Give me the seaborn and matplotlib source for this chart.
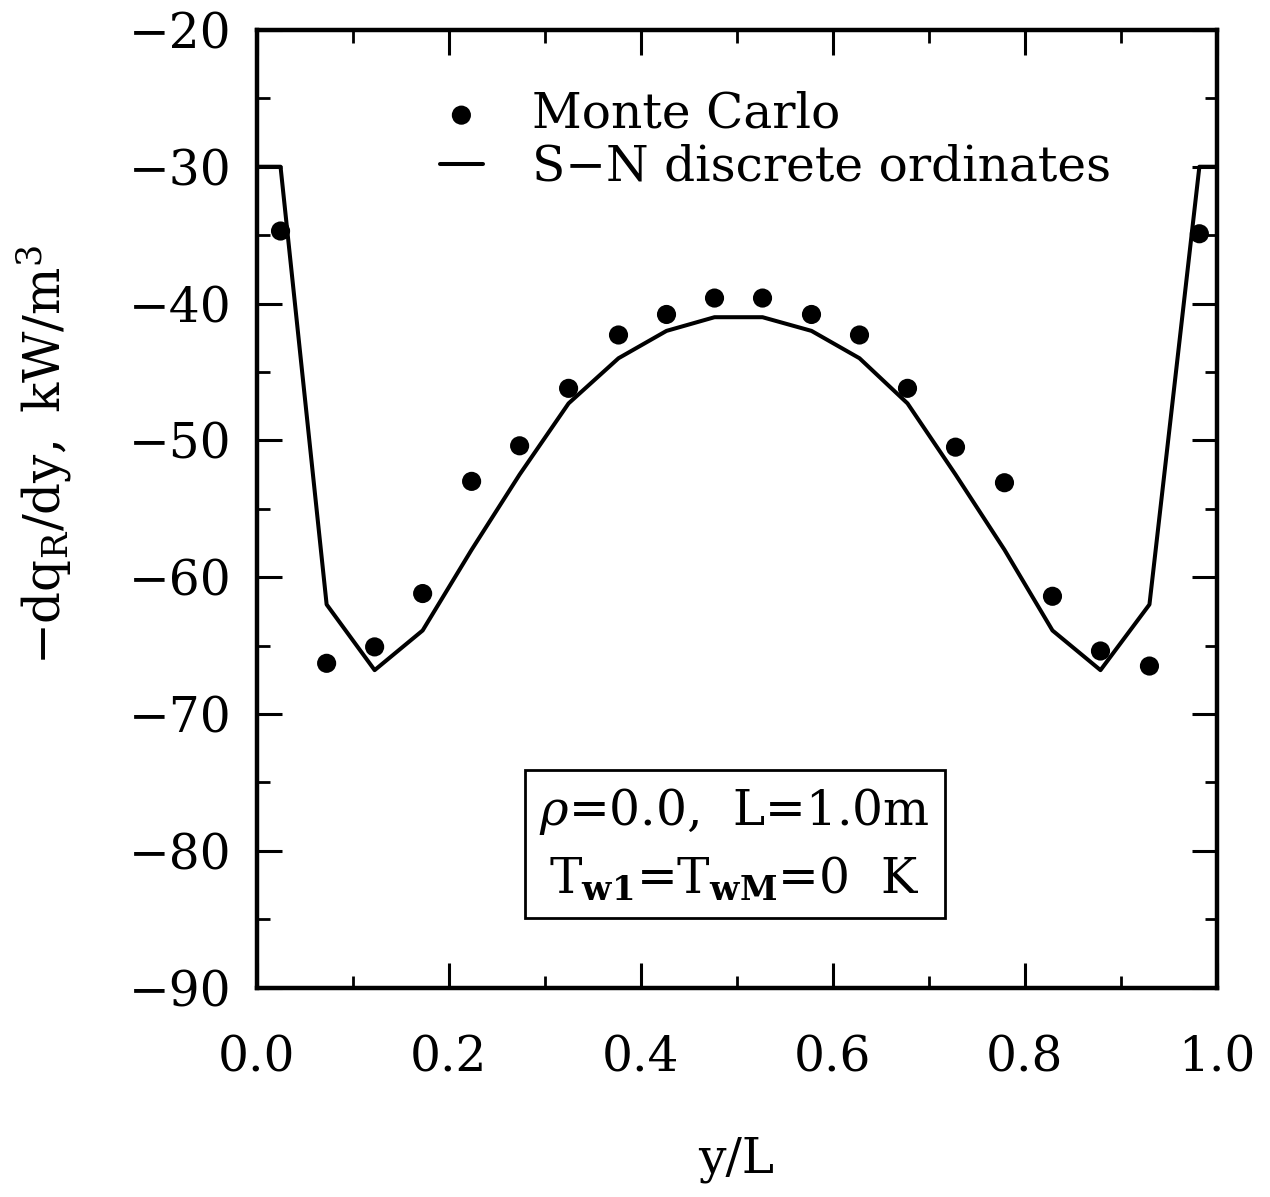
import numpy as np
import pandas as pd
import matplotlib
matplotlib.use("Agg")
import matplotlib.pyplot as plt
import seaborn as sns
from matplotlib.ticker import MultipleLocator, FormatStrFormatter

# Monte Carlo solution (cell centres)
mc_x = [0.025, 0.073, 0.123, 0.173, 0.224, 0.274, 0.325, 0.377, 0.427, 0.477,
        0.527, 0.578, 0.628, 0.678, 0.728, 0.779, 0.829, 0.879, 0.930, 0.982]
mc_y = [-34.7, -66.3, -65.1, -61.2, -53.0, -50.4, -46.2, -42.3, -40.8, -39.6,
        -39.6, -40.8, -42.3, -46.2, -50.5, -53.1, -61.4, -65.4, -66.5, -34.9]

# S-N discrete ordinates solution (walls + cell centres)
sn_x = [0.0, 0.025, 0.073, 0.123, 0.173, 0.224, 0.274, 0.325, 0.377, 0.427, 0.477,
        0.527, 0.578, 0.628, 0.678, 0.728, 0.779, 0.829, 0.879, 0.930, 0.982, 1.0]
sn_y = [-30.0, -30.0, -62.0, -66.8, -63.9, -58.0, -52.5, -47.3, -44.0, -42.0, -41.0,
        -41.0, -42.0, -44.0, -47.3, -52.5, -58.0, -63.9, -66.8, -62.0, -30.0, -30.0]

sns.set_theme(style="ticks")
plt.rcParams["font.family"] = ["DejaVu Serif"]
plt.rcParams["mathtext.fontset"] = "dejavuserif"
for key in ("text.color", "axes.labelcolor", "xtick.color", "ytick.color",
            "axes.edgecolor"):
    plt.rcParams[key] = "black"

fig = plt.figure(figsize=(12.7, 11.97), dpi=100)
ax = fig.add_axes([0.202, 0.175, 0.756, 0.800])

sn_df = pd.DataFrame({"x": sn_x, "y": sn_y})
mc_df = pd.DataFrame({"x": mc_x, "y": mc_y})

sns.lineplot(data=sn_df, x="x", y="y", ax=ax, color="black", lw=2.9,
             sort=False, label="S\u2212N discrete ordinates")
sns.scatterplot(data=mc_df, x="x", y="y", ax=ax, color="black", s=190,
                edgecolor="none", label="Monte Carlo", zorder=3)

ax.set_xlim(0.0, 1.0)
ax.set_ylim(-90, -20)
ax.xaxis.set_major_locator(MultipleLocator(0.2))
ax.xaxis.set_minor_locator(MultipleLocator(0.1))
ax.yaxis.set_major_locator(MultipleLocator(10))
ax.yaxis.set_minor_locator(MultipleLocator(5))
ax.xaxis.set_major_formatter(FormatStrFormatter("%.1f"))

ax.tick_params(which="both", direction="in", top=True, right=True,
               labelsize=35)
ax.tick_params(which="major", length=18, width=2.2)
ax.tick_params(which="minor", length=9, width=2.0)
ax.tick_params(axis="x", which="major", pad=34)
ax.tick_params(axis="y", which="major", pad=18)

for sp in ax.spines.values():
    sp.set_visible(True)
    sp.set_linewidth(3.2)

ax.set_xlabel("y/L", fontsize=35)
ax.xaxis.set_label_coords(0.5, -0.155)
ax.set_ylabel(r"$-\mathrm{dq_R/dy,\ kW/m^3}$", fontsize=36)
ax.yaxis.set_label_coords(-0.19, 0.556)

handles, labels = ax.get_legend_handles_labels()
order = [labels.index("Monte Carlo"), labels.index("S\u2212N discrete ordinates")]
ax.legend([handles[i] for i in order], [labels[i] for i in order],
          loc="upper left", bbox_to_anchor=(0.145, 0.982), frameon=False,
          fontsize=35, handlelength=0.9, handletextpad=1.0,
          labelspacing=0.12, markerscale=1.0)

ax.text(0.498, 0.149,
        r"$\rho$=0.0,  L=1.0m" + "\n" + r"T$_{\mathbf{w1}}$=T$_{\mathbf{wM}}$=0  K",
        transform=ax.transAxes, ha="center", va="center", fontsize=35,
        linespacing=1.45,
        bbox=dict(boxstyle="square,pad=0.3", facecolor="white",
                  edgecolor="black", linewidth=2.0))

fig.savefig("out.png", dpi=100, facecolor="white")
